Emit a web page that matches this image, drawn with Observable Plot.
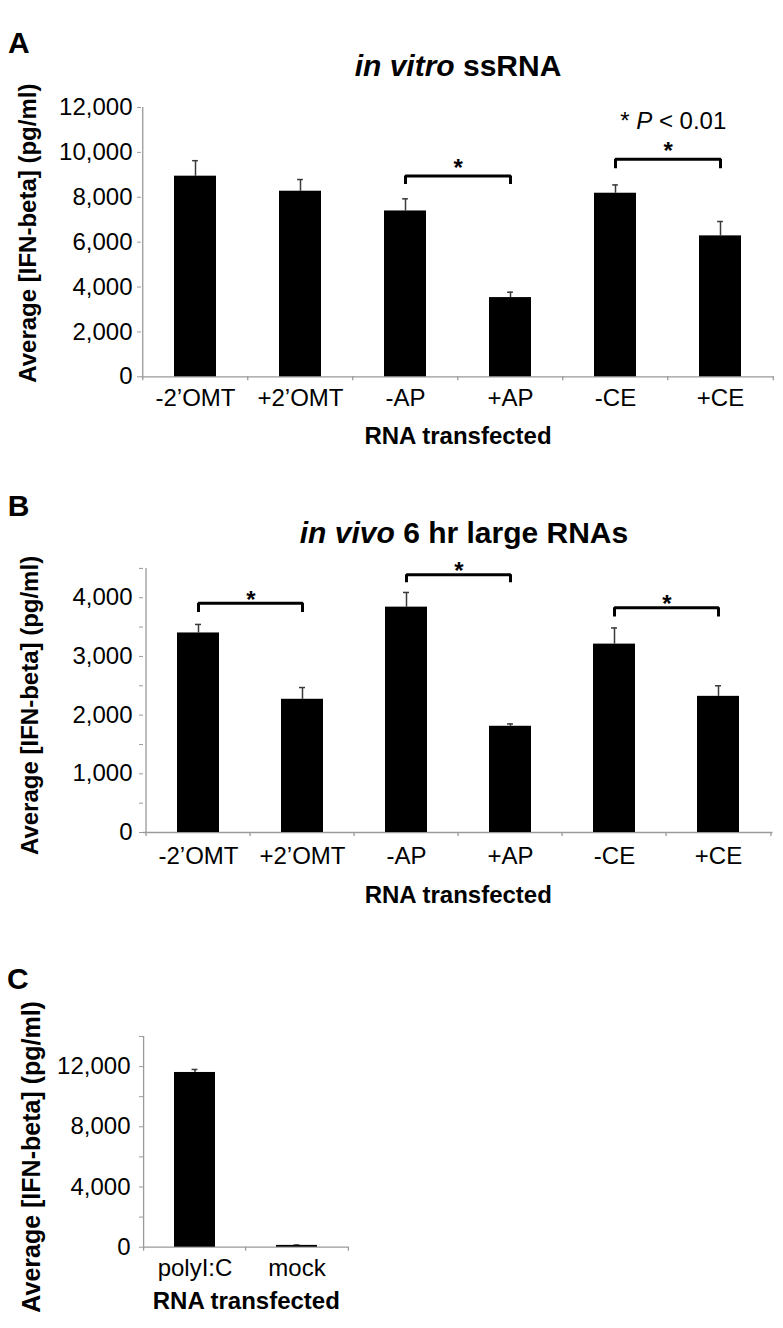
<!DOCTYPE html>
<html><head><meta charset="utf-8">
<script src="https://cdn.jsdelivr.net/npm/d3@7"></script>
<script src="https://cdn.jsdelivr.net/npm/@observablehq/plot@0.6"></script>
<style>
body{margin:0;background:#fff;}
#root{position:relative;width:783px;height:1328px;font-family:"Liberation Sans",Arial,sans-serif;color:#000;overflow:hidden;}
.panel{position:absolute;left:0;}
.lbl{position:absolute;font-weight:bold;font-size:30px;line-height:30px;white-space:nowrap;}
.ttl{position:absolute;font-weight:bold;font-size:30px;line-height:30px;white-space:nowrap;text-align:center;width:600px;}
svg text{fill:#000;stroke:none;}
</style></head>
<body><div id="root"></div>
<script>
// ---------- data ----------
const catsAB = ["-2’OMT", "+2’OMT", "-AP", "+AP", "-CE", "+CE"];
const meansA = [8940, 8270, 7390, 3530, 8180, 6280];
const errsA  = [690, 520, 540, 240, 370, 640];
const ticksA = [0, 2000, 4000, 6000, 8000, 10000, 12000];
const minorA = [];
const bracketsA = [
  {from: "-AP", to: "+AP", top: 8950, end: 8590},
  {from: "-CE", to: "+CE", top: 9690, end: 9290}
];
const noteA = {text: "* P < 0.01", italic: "P", at: "-CE", value: 11390};

const meansB = [3400, 2270, 3840, 1810, 3210, 2320];
const errsB  = [145, 200, 250, 40, 275, 180];
const ticksB = [0, 1000, 2000, 3000, 4000];
const minorB = [500, 1500, 2500, 3500, 4500];
const bracketsB = [
  {from: "-2’OMT", to: "+2’OMT", top: 3905, end: 3755},
  {from: "-AP", to: "+AP", top: 4390, end: 4262},
  {from: "-CE", to: "+CE", top: 3828, end: 3680}
];

const catsC = ["polyI:C", "mock"];
const meansC = [11610, 120];
const errsC  = [200, 25];
const ticksC = [0, 4000, 8000, 12000];
const minorC = [2000, 6000, 10000, 14000];

const yTitle = "Average [IFN-beta] (pg/ml)";
const xTitle = "RNA transfected";

// ---------- drawing ----------
const axisColor = "#9a9a9a";
const errColor = "#3a3a3a";
const fmt = d3.format(",");
const root = document.getElementById("root");

function panel(o) {
  const rows = o.cats.map((c, i) => ({cat: c, mean: o.means[i], err: o.errs[i]}));
  const W = 783;
  const step = (W - o.ml - o.mr) / o.cats.length;
  const bw = step * 0.4;
  const capInset = (bw - 6) / 2;
  const pts = [];
  (o.brackets || []).forEach((b, i) => {
    pts.push({b: i, x: b.from, y: b.end}, {b: i, x: b.from, y: b.top},
             {b: i, x: b.to, y: b.top}, {b: i, x: b.to, y: b.end});
  });
  const marks = [
    Plot.ruleY([0], {stroke: axisColor, strokeWidth: 1.3}),
    Plot.ruleX([o.cats[0]], {x: d => d, dx: -step / 2, y1: 0, y2: o.yMax, stroke: axisColor, strokeWidth: 1.3}),
    Plot.ruleX(o.cats, {x: d => d, dx: -step / 2, y1: 0, y2: 0, insetBottom: -4, stroke: axisColor, strokeWidth: 1.3}),
    Plot.ruleX([o.cats[o.cats.length - 1]], {x: d => d, dx: step / 2, y1: 0, y2: 0, insetBottom: -4, stroke: axisColor, strokeWidth: 1.3}),
    Plot.axisY(o.ticks, {tickSize: 4, tickPadding: o.yPad, tickFormat: fmt, stroke: axisColor, fontSize: o.tickFont, label: null}),
    o.minor.length ? Plot.axisY(o.minor, {tickSize: 4, tickFormat: () => "", stroke: axisColor, label: null}) : null,
    Plot.axisX({tickSize: 0, tickPadding: o.xPad, fontSize: o.tickFont, label: null}),
    Plot.ruleX(rows, {x: "cat", y1: "mean", y2: d => d.mean + d.err, stroke: errColor, strokeWidth: 1.5}),
    Plot.tickY(rows, {x: "cat", y: d => d.mean + d.err, insetLeft: capInset, insetRight: capInset, stroke: errColor, strokeWidth: 1.5}),
    Plot.barY(rows, {x: "cat", y: "mean", fill: "black"}),
    pts.length ? Plot.line(pts, {x: "x", y: "y", z: "b", stroke: "black", strokeWidth: 3, strokeLinejoin: "miter", strokeLinecap: "butt"}) : null,
    (o.brackets || []).length ? Plot.text(o.brackets, {x: "from", y: "top", text: () => "*", dx: step / 2, dy: o.starDy, fontSize: 24, fontWeight: "bold"}) : null,
    o.note ? Plot.text([o.note], {x: d => d.at, y: d => d.value, text: d => d.text, dx: step / 2 + 5, fontSize: 24}) : null,
    Plot.text([yTitle], {text: d => d, frameAnchor: "left", textAnchor: "middle", rotate: -90, dx: o.ytDx, dy: o.ytDy, fontWeight: "bold", fontSize: o.ytFont}),
    Plot.text([xTitle], {text: d => d, frameAnchor: "bottom", dy: o.xtDy, fontWeight: "bold", fontSize: 24})
  ].filter(Boolean);

  const svg = Plot.plot({
    width: W, height: o.height,
    marginTop: o.mt, marginBottom: o.mb, marginLeft: o.ml, marginRight: o.mr,
    x: {type: "band", domain: o.cats, paddingInner: 0.6, paddingOuter: 0.3},
    y: {domain: [0, o.yMax]},
    style: {fontFamily: "'Liberation Sans', Arial, sans-serif", fontSize: "24px", overflow: "visible", background: "transparent"},
    marks
  });
  // italic P in the significance note
  if (o.note) {
    for (const t of svg.querySelectorAll("text")) {
      if (t.textContent === o.note.text) {
        const [pre, post] = o.note.text.split(o.note.italic);
        t.textContent = "";
        const ns = "http://www.w3.org/2000/svg";
        const a = document.createElementNS(ns, "tspan"); a.textContent = pre;
        const b = document.createElementNS(ns, "tspan"); b.textContent = o.note.italic; b.setAttribute("font-style", "italic");
        const c = document.createElementNS(ns, "tspan"); c.textContent = post;
        t.append(a, b, c);
      }
    }
  }
  const div = document.createElement("div");
  div.className = "panel";
  div.style.top = o.top + "px";
  div.appendChild(svg);
  root.appendChild(div);
}

panel({cats: catsAB, means: meansA, errs: errsA, yMax: 12000, ticks: ticksA, minor: minorA,
  brackets: bracketsA, note: noteA, top: 0, height: 470, mt: 107, mb: 93.7, ml: 141, mr: 9,
  yPad: 5, xPad: 12, tickFont: 24, starDy: -8, ytDx: -113.5, ytDy: -9, ytFont: 24, xtDy: 67.5});

panel({cats: catsAB, means: meansB, errs: errsB, yMax: 4500, ticks: ticksB, minor: minorB,
  brackets: bracketsB, top: 470, height: 470, mt: 97.9, mb: 108, ml: 143, mr: 10.5,
  yPad: 7, xPad: 14, tickFont: 24, starDy: -3.5, ytDx: -113, ytDy: 5, ytFont: 24, xtDy: 70});

panel({cats: catsC, means: meansC, errs: errsC, yMax: 14000, ticks: ticksC, minor: minorC,
  brackets: [], top: 940, height: 388, mt: 96, mb: 81.3, ml: 143, mr: 434.4,
  yPad: 9, xPad: 11.5, tickFont: 24, starDy: 0, ytDx: -112, ytDy: 15, ytFont: 25, xtDy: 61.6});

// panel letters and titles
function addDiv(cls, html, left, top) {
  const d = document.createElement("div");
  d.className = cls; d.innerHTML = html;
  d.style.left = left + "px"; d.style.top = top + "px";
  root.appendChild(d);
}
addDiv("lbl", "A", 8, 27.9);
addDiv("lbl", "B", 7.8, 490.6);
addDiv("lbl", "C", 7, 963.6);
addDiv("ttl", "<i>in vitro</i> ssRNA", 458 - 300, 50.6);
addDiv("ttl", "<i>in vivo</i> 6 hr large RNAs", 464 - 300, 517.9);
</script>
</body></html>
